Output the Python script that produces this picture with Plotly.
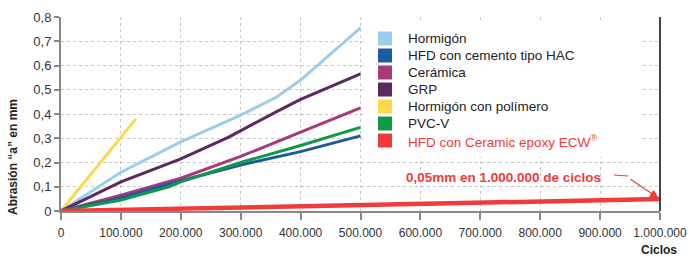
import plotly.graph_objects as go

# ---- data ----
names = ["Hormigón", "HFD con cemento tipo HAC", "Cerámica", "GRP",
         "Hormigón con polímero", "PVC-V", "HFD con Ceramic epoxy ECW<sup>®</sup>"]
colors = ["#9DCDED", "#1E5AA0", "#A8397A", "#5A2A5E", "#FFD84A", "#0E9A48", "#F23A3A"]

hormigon_x = [0, 100000, 200000, 300000, 360000, 400000, 500000]
hormigon_y = [0, 0.16, 0.285, 0.395, 0.47, 0.54, 0.755]

hac_x = [0, 100000, 200000, 300000, 400000, 500000]
hac_y = [0, 0.055, 0.125, 0.19, 0.245, 0.31]

ceramica_x = [0, 100000, 200000, 300000, 400000, 500000]
ceramica_y = [0, 0.065, 0.135, 0.225, 0.325, 0.425]

grp_x = [0, 100000, 200000, 280000, 360000, 400000, 500000]
grp_y = [0, 0.12, 0.215, 0.305, 0.41, 0.46, 0.565]

polimero_x = [0, 125000]
polimero_y = [0, 0.38]

pvc_x = [0, 100000, 180000, 200000, 300000, 400000, 500000]
pvc_y = [0, 0.045, 0.1, 0.12, 0.2, 0.27, 0.345]

ecw_x = [0, 500000, 1000000]
ecw_y = [0, 0.023, 0.049]

x_ticks = [0, 100000, 200000, 300000, 400000, 500000, 600000, 700000, 800000, 900000, 1000000]
y_ticks = [0, 0.1, 0.2, 0.3, 0.4, 0.5, 0.6, 0.7, 0.8]
y_ticklabels = ["0", "0,1", "0,2", "0,3", "0,4", "0,5", "0,6", "0,7", "0,8"]

FONT = "Liberation Sans, Arial, sans-serif"

series = [
    (hormigon_x, hormigon_y, 3),
    (hac_x, hac_y, 3),
    (ceramica_x, ceramica_y, 3),
    (grp_x, grp_y, 3),
    (polimero_x, polimero_y, 3),
    (pvc_x, pvc_y, 3),
    (ecw_x, ecw_y, 4.5),
]

fig = go.Figure()
order = [4, 0, 3, 2, 1, 5, 6]
for i in order:
    xs, ys, w = series[i]
    fig.add_trace(go.Scatter(x=xs, y=ys, mode="lines", name=names[i],
                             line=dict(color=colors[i], width=w),
                             showlegend=False, cliponaxis=False, hoverinfo="skip"))

W, H = 693, 257
L, R, T, B = 61, 33, 17, 46
PW, PH = W - L - R, H - T - B

def px(x):
    return (x - L) / PW

def py(y):
    return (H - B - y) / PH

fig.update_layout(
    width=W, height=H,
    margin=dict(l=L, r=R, t=T, b=B),
    paper_bgcolor="white", plot_bgcolor="white",
    separators=",.",
    font=dict(family=FONT, size=12, color="#333333"),
    showlegend=False,
    xaxis=dict(range=[0, 1000000], tickvals=x_ticks, tickformat=",d", automargin=False,
               showgrid=True, gridcolor="#C8C8C8", griddash="dot", gridwidth=1,
               showline=True, linecolor="#888888", linewidth=2,
               ticks="outside", ticklen=7, tickcolor="#888888", tickwidth=2,
               ticklabelstandoff=3,
               zeroline=False, tickfont=dict(size=12, color="#333333")),
    yaxis=dict(range=[0, 0.8], tickvals=y_ticks, ticktext=y_ticklabels, automargin=False,
               showgrid=True, gridcolor="#C8C8C8", griddash="dot", gridwidth=1,
               showline=True, linecolor="#888888", linewidth=2,
               ticks="outside", ticklen=5, tickcolor="#888888", tickwidth=2,
               zeroline=False, tickfont=dict(size=13, color="#333333")),
)

# right border
fig.add_shape(type="line", xref="paper", yref="paper", x0=1, x1=1, y0=0, y1=1,
              line=dict(color="#444444", width=2))

# legend (manual) : white box, swatches and labels
fig.add_shape(type="rect", xref="paper", yref="paper", layer="above",
              x0=px(363), x1=px(641), y0=py(157), y1=py(23),
              fillcolor="white", line=dict(width=0))
for k, n in enumerate(names):
    cy = 38.5 + 17 * k
    fig.add_shape(type="rect", xref="paper", yref="paper", layer="above",
                  x0=px(378), x1=px(392), y0=py(cy + 7), y1=py(cy - 7),
                  fillcolor=colors[k], line=dict(width=0))
    tcol = "#F23A3A" if k == 6 else "#222222"
    fig.add_annotation(text=n, xref="paper", yref="paper", x=px(406), y=py(cy),
                       xanchor="left", yanchor="middle", showarrow=False,
                       font=dict(size=13.5, color=tcol))

# axis titles
fig.add_annotation(text="<b>Abrasión “a” en mm</b>", xref="paper", yref="paper",
                   x=px(13), y=py(157), textangle=-90, showarrow=False,
                   font=dict(size=12, color="#222222"), xanchor="center", yanchor="middle")
fig.add_annotation(text="<b>Ciclos</b>", xref="paper", yref="paper",
                   x=px(659), y=py(250), showarrow=False, xanchor="center", yanchor="middle",
                   font=dict(size=12, color="#222222"))

# red annotation with arrow
fig.add_annotation(text="<b>0,05mm en 1.000.000 de ciclos</b>", xref="paper", yref="paper",
                   x=px(503), y=py(177), xanchor="center", yanchor="middle",
                   showarrow=False, font=dict(size=13.5, color="#F23A3A"))
fig.add_annotation(x=ecw_x[-1], y=ecw_y[-1], text="", showarrow=True,
                   arrowhead=2, arrowsize=1.4, arrowwidth=1.2, arrowcolor="#F23A3A",
                   ax=-31, ay=-21, standoff=2)
fig.add_shape(type="line", xref="paper", yref="paper",
              x0=px(614), x1=px(628), y0=py(175), y1=py(176),
              line=dict(color="#F23A3A", width=1.2))

fig.write_html("out.html", config={"displayModeBar": False},
               post_script="document.body.style.margin='0px';document.body.style.overflow='hidden';")
